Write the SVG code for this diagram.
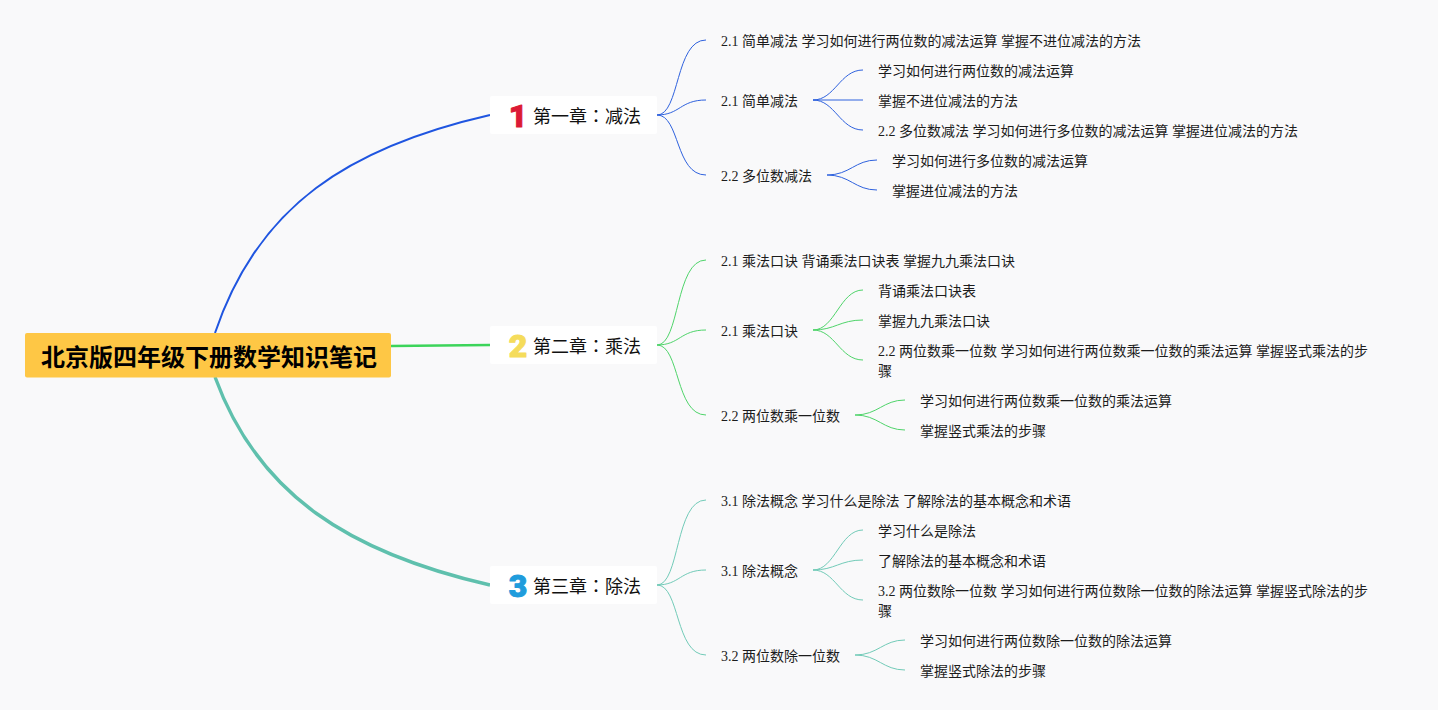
<svg xmlns="http://www.w3.org/2000/svg" width="1438" height="710" viewBox="0 0 1438 710">
<style>
text{font-family:"Liberation Serif","Noto Sans CJK SC",serif;font-size:14px;fill:#1c1c1c}
.root{font-family:"Noto Sans CJK SC",sans-serif;font-size:24px;font-weight:700;fill:#000}
.ch{font-size:18px;font-family:"Noto Sans CJK TC",sans-serif;fill:#111}
.num{font-family:"Roboto",sans-serif;font-size:32px;font-weight:900;text-anchor:middle;stroke-width:1;stroke-linejoin:round}
.b{fill:none;stroke-width:1}
.blue{stroke:#2f62de}.green{stroke:#4fd46a}.teal{stroke:#72cbb8}
.card{fill:#fff}
</style>
<rect width="1438" height="710" fill="#f9f9fa"/>
<g id="connectors" fill="none">
<path d="M215 333C258 205 350 147 490 115" stroke="#1f55e0" stroke-width="2"/>
<path d="M391 346L490 345" stroke="#3cd45a" stroke-width="2.600"/>
<path d="M215 377C258 495 350 553 490 585" stroke="#5fc0ad" stroke-width="3.400"/>
<path class="b blue" d="M657 115C680 115 675 40 706 40M657 115C680 115 680 100 706 100M657 115C680 115 675 175 706 175"/>
<path class="b blue" d="M813 100C835 100 840 70 863 70M813 100H863M813 100C835 100 840 130 863 130"/>
<path class="b blue" d="M827 175C850 175 855 160 877 160M827 175C850 175 855 190 877 190"/>
<path class="b green" d="M657 345C680 345 675 260 706 260M657 345C680 345 680 330 706 330M657 345C680 345 675 415 706 415"/>
<path class="b green" d="M813 330C835 330 840 290 863 290M813 330C835 330 840 320 863 320M813 330C835 330 840 360 863 360"/>
<path class="b green" d="M855 415C878 415 883 400 905 400M855 415C878 415 883 430 905 430"/>
<path class="b teal" d="M657 585C680 585 675 500 706 500M657 585C680 585 680 570 706 570M657 585C680 585 675 655 706 655"/>
<path class="b teal" d="M813 570C835 570 840 530 863 530M813 570C835 570 840 560 863 560M813 570C835 570 840 600 863 600"/>
<path class="b teal" d="M855 655C878 655 883 640 905 640M855 655C878 655 883 670 905 670"/>
</g>
<g id="root"><rect x="25" y="333" width="366" height="44.500" rx="2" fill="#fec745"/><text class="root" x="41" y="366">北京版四年级下册数学知识笔记</text></g>
<g id="ch1"><rect class="card" x="490" y="96" width="167" height="38" rx="2"/><text class="num" x="518" y="126.500" style="fill:#dc1a35;stroke:#dc1a35">1</text><text class="ch" x="533" y="123">第一章：减法</text></g>
<g id="ch2"><rect class="card" x="490" y="326" width="167" height="38" rx="2"/><text class="num" x="518" y="356.500" style="fill:#f5dc5b;stroke:#f5dc5b">2</text><text class="ch" x="533" y="353">第二章：乘法</text></g>
<g id="ch3"><rect class="card" x="490" y="566" width="167" height="38" rx="2"/><text class="num" x="518" y="596.500" style="fill:#1f9cdc;stroke:#1f9cdc">3</text><text class="ch" x="533" y="593">第三章：除法</text></g>
<g id="n1"><text x="721" y="46">2.1 简单减法 学习如何进行两位数的减法运算 掌握不进位减法的方法</text></g>
<g id="n2"><text x="721" y="106">2.1 简单减法</text></g>
<g id="n3"><text x="878" y="76">学习如何进行两位数的减法运算</text></g>
<g id="n4"><text x="878" y="106">掌握不进位减法的方法</text></g>
<g id="n5"><text x="878" y="136">2.2 多位数减法 学习如何进行多位数的减法运算 掌握进位减法的方法</text></g>
<g id="n6"><text x="721" y="181">2.2 多位数减法</text></g>
<g id="n7"><text x="892" y="166">学习如何进行多位数的减法运算</text></g>
<g id="n8"><text x="892" y="196">掌握进位减法的方法</text></g>
<g id="n9"><text x="721" y="266">2.1 乘法口诀 背诵乘法口诀表 掌握九九乘法口诀</text></g>
<g id="n10"><text x="721" y="336">2.1 乘法口诀</text></g>
<g id="n11"><text x="878" y="296">背诵乘法口诀表</text></g>
<g id="n12"><text x="878" y="326">掌握九九乘法口诀</text></g>
<g id="n13"><text x="878" y="356">2.2 两位数乘一位数 学习如何进行两位数乘一位数的乘法运算 掌握竖式乘法的步</text><text x="878" y="376">骤</text></g>
<g id="n14"><text x="721" y="421">2.2 两位数乘一位数</text></g>
<g id="n15"><text x="920" y="406">学习如何进行两位数乘一位数的乘法运算</text></g>
<g id="n16"><text x="920" y="436">掌握竖式乘法的步骤</text></g>
<g id="n17"><text x="721" y="506">3.1 除法概念 学习什么是除法 了解除法的基本概念和术语</text></g>
<g id="n18"><text x="721" y="576">3.1 除法概念</text></g>
<g id="n19"><text x="878" y="536">学习什么是除法</text></g>
<g id="n20"><text x="878" y="566">了解除法的基本概念和术语</text></g>
<g id="n21"><text x="878" y="596">3.2 两位数除一位数 学习如何进行两位数除一位数的除法运算 掌握竖式除法的步</text><text x="878" y="616">骤</text></g>
<g id="n22"><text x="721" y="661">3.2 两位数除一位数</text></g>
<g id="n23"><text x="920" y="646">学习如何进行两位数除一位数的除法运算</text></g>
<g id="n24"><text x="920" y="676">掌握竖式除法的步骤</text></g>
</svg>
